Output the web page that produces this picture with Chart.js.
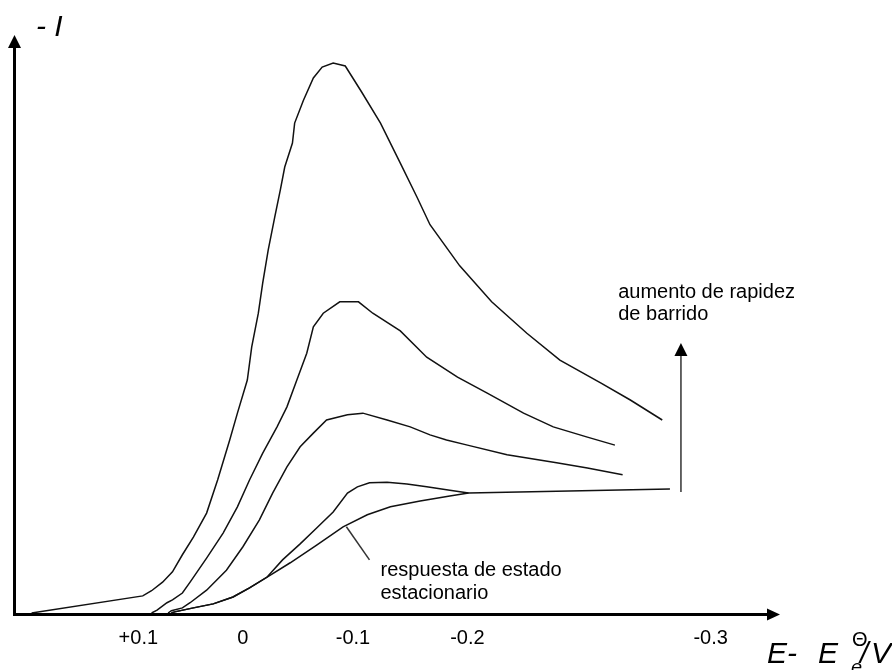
<!DOCTYPE html>
<html>
<head>
<meta charset="utf-8">
<script src="https://cdn.jsdelivr.net/npm/chart.js@4.4.1/dist/chart.umd.min.js"></script>
<style>
  body { margin: 0; background: #fff; }
  canvas { display: block; }
</style>
</head>
<body>
<canvas id="cv" width="892" height="670"></canvas>
<script>
// tick positions (E / V as drawn) and their printed labels
const xTickValues = [0.095, 0, -0.1, -0.204, -0.425];
const xTickLabels = ['+0.1', '0', '-0.1', '-0.2', '-0.3'];

// fastest sweep
const curve1E = [0.192, 0.091, 0.083, 0.073, 0.064, 0.055, 0.045, 0.033, 0.023, 0.012, 0.005, -0.004, -0.008, -0.014, -0.018, -0.023, -0.029, -0.034, -0.038, -0.045, -0.047, -0.055, -0.064, -0.072, -0.082, -0.093, -0.108, -0.125, -0.143, -0.158, -0.170, -0.197, -0.226, -0.258, -0.288, -0.325, -0.352, -0.381];
const curve1I = [0, 3.0, 3.9, 5.4, 7.2, 10.2, 13.3, 17.5, 23.3, 30.3, 35.0, 40.8, 46.6, 52.5, 57.8, 63.6, 69.4, 74.1, 78.1, 82.3, 85.8, 89.8, 93.7, 95.6, 96.3, 95.8, 91.2, 85.8, 78.8, 72.9, 68.0, 60.8, 54.5, 49.0, 44.3, 40.3, 37.3, 33.8];

const curve2E = [0.083, 0.078, 0.069, 0.064, 0.055, 0.048, 0.033, 0.018, 0.005, -0.006, -0.018, -0.031, -0.040, -0.049, -0.058, -0.064, -0.073, -0.088, -0.105, -0.118, -0.143, -0.167, -0.195, -0.222, -0.255, -0.282, -0.313, -0.338];
const curve2I = [0, 0.5, 1.8, 2.3, 3.5, 5.4, 9.6, 14.0, 18.6, 23.3, 28.0, 32.6, 36.1, 40.8, 45.5, 50.1, 52.5, 54.5, 54.5, 52.5, 49.4, 44.8, 41.3, 38.5, 35.0, 32.6, 30.8, 29.4];

const curve3E = [0.068, 0.065, 0.055, 0.048, 0.033, 0.015, 0, -0.015, -0.027, -0.040, -0.052, -0.064, -0.076, -0.095, -0.109, -0.131, -0.152, -0.170, -0.185, -0.204, -0.240, -0.285, -0.313, -0.345];
const curve3I = [0, 0.4, 0.9, 1.8, 4.0, 7.5, 11.6, 16.3, 21.0, 25.6, 29.1, 31.5, 33.8, 34.7, 35.0, 33.8, 32.6, 31.2, 30.3, 29.4, 27.7, 26.3, 25.4, 24.2];

const curve4E = [0.065, 0.062, 0.045, 0.027, 0.009, -0.006, -0.022, -0.036, -0.052, -0.067, -0.082, -0.095, -0.104, -0.115, -0.131, -0.149, -0.167, -0.188, -0.205];
const curve4I = [0, 0.2, 0.9, 1.6, 2.8, 4.4, 6.3, 9.3, 12.1, 14.9, 17.7, 21.0, 22.1, 22.8, 22.9, 22.6, 22.1, 21.5, 21.0];

// steady state response
const steadyE = [0.065, 0.062, 0.045, 0.027, 0.009, -0.006, -0.022, -0.043, -0.067, -0.091, -0.113, -0.134, -0.161, -0.188, -0.205, -0.388];
const steadyI = [0, 0.2, 0.9, 1.6, 2.8, 4.4, 6.3, 8.8, 11.9, 15.1, 17.2, 18.6, 19.6, 20.5, 21.0, 21.7];

const FONT = "'Liberation Sans', Arial, sans-serif";
Chart.defaults.font.family = FONT;

function pts(es, is) {
  return es.map((e, i) => ({ x: e, y: is[i] }));
}

function curve(es, is) {
  return {
    data: pts(es, is),
    borderColor: '#111',
    borderWidth: 1.5,
    pointRadius: 0,
    tension: 0,
    fill: false
  };
}

const decor = {
  id: 'decor',
  afterDraw(chart) {
    const { ctx, chartArea: a, scales: { x, y } } = chart;
    ctx.save();
    ctx.fillStyle = '#000';
    ctx.strokeStyle = '#000';

    // axes with arrowheads
    const ax = a.left + 0.5, ay = a.bottom + 1.5;
    ctx.lineWidth = 3;
    ctx.beginPath();
    ctx.moveTo(ax, ay + 1.5);
    ctx.lineTo(ax, a.top + 4);
    ctx.moveTo(ax - 1.5, ay);
    ctx.lineTo(a.right - 11, ay);
    ctx.stroke();
    ctx.beginPath();
    ctx.moveTo(ax, a.top - 7);
    ctx.lineTo(ax - 6.5, a.top + 6);
    ctx.lineTo(ax + 6.5, a.top + 6);
    ctx.closePath();
    ctx.fill();
    ctx.beginPath();
    ctx.moveTo(a.right, ay);
    ctx.lineTo(a.right - 13, ay - 6);
    ctx.lineTo(a.right - 13, ay + 6);
    ctx.closePath();
    ctx.fill();

    // axis titles
    ctx.textBaseline = 'alphabetic';
    ctx.textAlign = 'left';
    ctx.font = 'italic 30px ' + FONT;
    ctx.fillText('- I', 36, 36);
    ctx.fillText('E-', 767, 663);
    ctx.fillText('E', 818, 663);
    ctx.font = 'italic 20px ' + FONT;
    ctx.fillText('e', 851, 674);
    ctx.font = '20px ' + FONT;
    ctx.fillText('\u0398', 852, 646);
    ctx.font = 'italic 30px ' + FONT;
    ctx.fillText('/', 860, 663);
    ctx.fillText('V', 871, 663);

    // sweep-rate arrow
    const rx = x.getPixelForValue(-0.398);
    const rTop = y.getPixelForValue(47.3);
    ctx.strokeStyle = '#333';
    ctx.lineWidth = 1.5;
    ctx.beginPath();
    ctx.moveTo(rx, y.getPixelForValue(21.2));
    ctx.lineTo(rx, rTop + 10);
    ctx.stroke();
    ctx.beginPath();
    ctx.moveTo(rx, rTop);
    ctx.lineTo(rx - 6.5, rTop + 13);
    ctx.lineTo(rx + 6.5, rTop + 13);
    ctx.closePath();
    ctx.fill();

    // leader to steady-state curve
    ctx.beginPath();
    ctx.moveTo(x.getPixelForValue(-0.094), y.getPixelForValue(15.1));
    ctx.lineTo(x.getPixelForValue(-0.115), y.getPixelForValue(9.3));
    ctx.stroke();

    ctx.font = '20px ' + FONT;
    ctx.fillStyle = '#000';
    ctx.fillText('aumento de rapidez', x.getPixelForValue(-0.341), y.getPixelForValue(55.2));
    ctx.fillText('de barrido', x.getPixelForValue(-0.341), y.getPixelForValue(51.3));
    ctx.fillText('respuesta de estado', x.getPixelForValue(-0.125), y.getPixelForValue(6.5));
    ctx.fillText('estacionario', x.getPixelForValue(-0.125), y.getPixelForValue(2.5));
    ctx.restore();
  }
};

new Chart(document.getElementById('cv').getContext('2d'), {
  type: 'line',
  data: {
    datasets: [
      curve(curve1E, curve1I),
      curve(curve2E, curve2I),
      curve(curve3E, curve3I),
      curve(curve4E, curve4I),
      curve(steadyE, steadyI)
    ]
  },
  options: {
    responsive: false,
    animation: false,
    layout: { padding: { left: 14, top: 42, right: 112, bottom: 0 } },
    plugins: { legend: { display: false }, tooltip: { enabled: false } },
    scales: {
      x: {
        type: 'linear',
        reverse: true,
        min: -0.488,
        max: 0.208,
        grid: { display: false },
        border: { display: false },
        afterBuildTicks: s => { s.ticks = xTickValues.map(v => ({ value: v })); },
        afterFit: s => { s.height = 57; },
        ticks: {
          autoSkip: false,
          maxRotation: 0,
          padding: 5,
          color: '#000',
          font: { size: 20 },
          callback: (v, i) => xTickLabels[i]
        }
      },
      y: { display: false, min: 0, max: 100 }
    }
  },
  plugins: [decor]
});
</script>
</body>
</html>
